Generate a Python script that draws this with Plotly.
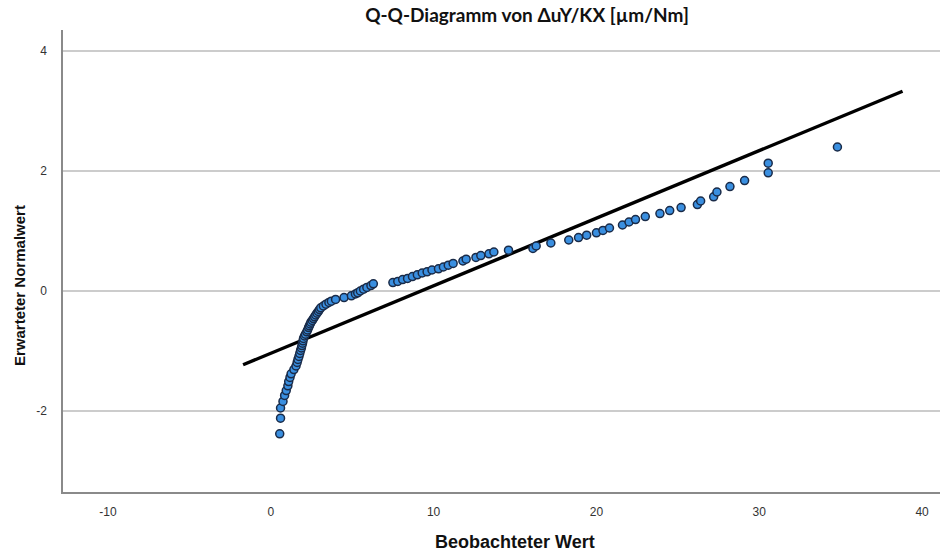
import plotly.graph_objects as go

obs = [0.55, 0.6, 0.6, 0.75, 0.85, 0.95, 1.05, 1.1, 1.18,
       1.25, 1.42, 1.55, 1.62, 1.67, 1.73, 1.78, 1.83, 1.88, 1.91,
       1.95, 1.98, 2.01, 2.07, 2.13, 2.21, 2.26, 2.32, 2.37, 2.42,
       2.47, 2.55, 2.62, 2.69, 2.76, 2.84, 2.92, 2.99, 3.07, 3.23,
       3.39, 3.57, 3.72, 3.98, 4.5, 4.95, 5.2, 5.34, 5.5, 5.7, 5.9, 6.15,
       6.3, 7.5, 7.8, 8.1, 8.4, 8.7, 9.0, 9.3, 9.6, 9.9, 10.3, 10.6,
       10.9, 11.2, 11.8, 12.0, 12.6, 12.9, 13.4, 13.7,
       14.6, 16.1, 16.3, 17.2, 18.3, 18.9, 19.4, 20.0, 20.4, 20.8,
       21.6, 22.0, 22.4, 23.0, 23.9, 24.5, 25.2, 26.2, 26.4, 27.2,
       27.4, 28.2, 29.1, 30.55, 30.55, 34.8]
expected = [-2.38, -2.12, -1.95, -1.84, -1.74, -1.66, -1.58, -1.51, -1.44,
            -1.38, -1.31, -1.25, -1.19, -1.14, -1.09, -1.04, -0.99, -0.95, -0.91,
            -0.87, -0.83, -0.79, -0.75, -0.72, -0.68, -0.65, -0.61, -0.58, -0.55,
            -0.52, -0.49, -0.46, -0.43, -0.40, -0.37, -0.34, -0.31, -0.28, -0.25,
            -0.22, -0.19, -0.17, -0.14, -0.11, -0.08, -0.05, -0.03, 0.00, 0.03, 0.06, 0.09,
            0.12, 0.14, 0.16, 0.19, 0.21, 0.24, 0.27, 0.30, 0.32, 0.35, 0.37, 0.40,
            0.43, 0.46, 0.50, 0.53, 0.56, 0.59, 0.62, 0.65,
            0.68, 0.71, 0.75, 0.80, 0.85, 0.89, 0.93, 0.97, 1.01, 1.05,
            1.10, 1.15, 1.19, 1.24, 1.29, 1.34, 1.39, 1.44, 1.50, 1.57,
            1.65, 1.74, 1.84, 1.97, 2.13, 2.40]

# Reference line end points
line_x = [-1.7, 38.8]
line_y = [-1.23, 3.33]

x_ticks = [-10, 0, 10, 20, 30, 40]
y_ticks = [-2, 0, 2, 4]

fig = go.Figure()
fig.add_trace(go.Scatter(x=line_x, y=line_y, mode="lines",
                         line=dict(color="#000000", width=3.4),
                         hoverinfo="skip", showlegend=False))
fig.add_trace(go.Scatter(x=obs, y=expected, mode="markers",
                         marker=dict(size=8, color="#3a8fe0",
                                     line=dict(color="#1a2b48", width=1.5)),
                         showlegend=False))

tick_font = dict(family="Liberation Sans, Arial", size=12, color="#333333")
label_font = dict(family="Liberation Sans, Arial", size=18, color="#111111")
fig.update_layout(
    width=941, height=553,
    margin=dict(l=63, r=1, t=30, b=61),
    plot_bgcolor="white", paper_bgcolor="white",
    title=dict(text="<b>Q-Q-Diagramm von ΔuY/KX [µm/Nm]</b>",
               font=dict(family="Lato, Open Sans, Liberation Sans", size=19, color="#111111"),
               x=527 / 941, xanchor="center", xref="container",
               y=1 - 15 / 553, yanchor="middle", yref="container"),
    xaxis=dict(range=[-12.76, 41.1], tickvals=x_ticks, ticktext=[str(v) for v in x_ticks],
               showgrid=False, zeroline=False, showline=True, linecolor="#8a8a8a",
               linewidth=1.5, ticks="", tickfont=tick_font, ticklabelstandoff=8),
    yaxis=dict(range=[-3.35, 4.35], tickvals=y_ticks, ticktext=[str(v) for v in y_ticks],
               showgrid=True, gridcolor="#cccccc", gridwidth=1.5, zeroline=False,
               showline=True, linecolor="#8a8a8a", linewidth=1.5, ticks="",
               tickfont=tick_font, ticklabelstandoff=12),
    annotations=[
        dict(text="<b>Beobachteter Wert</b>", xref="paper", yref="paper",
             x=(515 - 63) / 877, y=0, yanchor="middle", yshift=-50, showarrow=False,
             font=label_font),
        dict(text="<b>Erwarteter Normalwert</b>", xref="paper", yref="paper",
             x=0, xanchor="center", xshift=-44, y=(492 - 286) / 462, yanchor="middle",
             textangle=-90, showarrow=False,
             font=dict(family="Liberation Sans, Arial", size=15, color="#111111")),
    ],
)

fig.write_html("out.html")
